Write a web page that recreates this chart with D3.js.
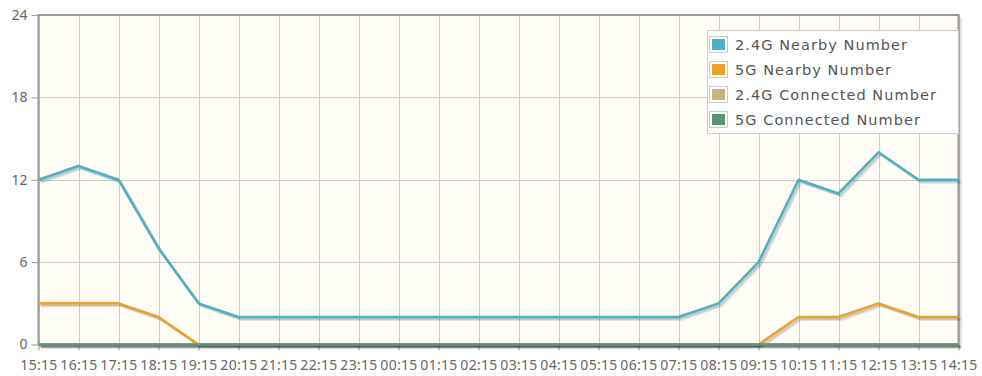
<!DOCTYPE html>
<html>
<head>
<meta charset="utf-8">
<script src="https://cdn.jsdelivr.net/npm/d3@7"></script>
<style>
  html, body { margin: 0; padding: 0; background: #ffffff; }
  svg { display: block; }
</style>
</head>
<body>
<svg id="chart" width="982" height="376"></svg>
<script>
// Hourly counts of nearby / connected Wi-Fi clients
const hours = ["15:15","16:15","17:15","18:15","19:15","20:15","21:15","22:15","23:15","00:15","01:15","02:15",
               "03:15","04:15","05:15","06:15","07:15","08:15","09:15","10:15","11:15","12:15","13:15","14:15"];
const nearby24 = [12,13,12,7,3,2,2,2,2,2,2,2,2,2,2,2,2,3,6,12,11,14,12,12];
const nearby5 = [3,3,3,2,0,0,0,0,0,0,0,0,0,0,0,0,0,0,0,2,2,3,2,2];
const connected24 = [0,0,0,0,0,0,0,0,0,0,0,0,0,0,0,0,0,0,0,0,0,0,0,0];
const connected5 = [0,0,0,0,0,0,0,0,0,0,0,0,0,0,0,0,0,0,0,0,0,0,0,0];
const seriesNames = ["2.4G Nearby Number","5G Nearby Number","2.4G Connected Number","5G Connected Number"];
const seriesColors = ["#4bb2c5","#eaa228","#c5b47f","#579575"];
const yTicks = [0,6,12,18,24];

const svg = d3.select("#chart");
const plot = { left: 38.5, right: 958.5, top: 15, bottom: 344.5 };

const x = d3.scalePoint().domain(hours).range([plot.left, plot.right]);
const y = d3.scaleLinear().domain([0,24]).range([plot.bottom, plot.top]);

// plot background
svg.append("rect")
  .attr("x", plot.left).attr("y", plot.top)
  .attr("width", plot.right - plot.left).attr("height", plot.bottom - plot.top)
  .attr("fill", "#fffdf6");

// grid lines
const grid = svg.append("g").attr("stroke", "#cccccc").attr("stroke-width", 1);
grid.selectAll(".vg").data(hours).join("line")
  .attr("x1", d => Math.round(x(d)) + 0.5).attr("x2", d => Math.round(x(d)) + 0.5)
  .attr("y1", plot.top).attr("y2", plot.bottom);
grid.selectAll(".hg").data(yTicks).join("line")
  .attr("x1", plot.left).attr("x2", plot.right)
  .attr("y1", d => Math.round(y(d)) + 0.5).attr("y2", d => Math.round(y(d)) + 0.5);

// border shadow and border
const shadowG = svg.append("g").attr("fill", "none");
[1, 2, 3].forEach(k => {
  shadowG.append("path")
    .attr("d", `M${plot.right + k},${plot.top + k} L${plot.right + k},${plot.bottom + k} L${plot.left + k},${plot.bottom + k}`)
    .attr("stroke", "rgba(0,0,0,0.08)").attr("stroke-width", 1.5);
});
svg.append("rect")
  .attr("x", plot.left).attr("y", plot.top)
  .attr("width", plot.right - plot.left).attr("height", plot.bottom - plot.top)
  .attr("fill", "none").attr("stroke", "#999999").attr("stroke-width", 2);

// axes
const tickFont = "'Noto Sans', sans-serif";
const xAxis = d3.axisBottom(x).tickSize(6).tickPadding(10);
const gx = svg.append("g").attr("transform", `translate(0,${plot.bottom})`).call(xAxis);
gx.select(".domain").remove();
gx.selectAll(".tick line").attr("stroke", "#999999");
gx.selectAll(".tick text")
  .attr("fill", "#666666").attr("font-family", tickFont).attr("font-size", 14)
  .attr("letter-spacing", 0.3);

const yAxis = d3.axisLeft(y).tickValues(yTicks).tickSize(7).tickPadding(4);
const gy = svg.append("g").attr("transform", `translate(${plot.left},0)`).call(yAxis);
gy.select(".domain").remove();
gy.selectAll(".tick line").attr("stroke", "#999999");
gy.selectAll(".tick text")
  .attr("fill", "#666666").attr("font-family", tickFont).attr("font-size", 14);

// series lines with soft drop shadow
const line = d3.line().x((d, i) => x(hours[i])).y(d => y(d));
const allSeries = [nearby24, nearby5, connected24, connected5];
const linesG = svg.append("g").attr("fill", "none").attr("stroke-linejoin", "round");
allSeries.forEach((vals, si) => {
  [3, 2, 1].forEach(k => {
    linesG.append("path")
      .datum(vals)
      .attr("d", line)
      .attr("transform", `translate(${k * 0.9},${k * 0.9})`)
      .attr("stroke", "rgba(0,0,0,0.1)")
      .attr("stroke-width", 2.5);
  });
  linesG.append("path")
    .datum(vals)
    .attr("d", line)
    .attr("stroke", seriesColors[si])
    .attr("stroke-width", 2.5);
});

// legend
const legend = svg.append("g").attr("transform", "translate(707,30)");
legend.append("rect")
  .attr("x", 0.5).attr("y", 0.5).attr("width", 251).attr("height", 103)
  .attr("fill", "#ffffff").attr("stroke", "#cccccc");
const items = legend.selectAll(".item").data(seriesNames).join("g")
  .attr("transform", (d, i) => `translate(0,${6 + i * 25})`);
items.append("rect")
  .attr("x", 2.5).attr("y", 0.5).attr("width", 18).attr("height", 16)
  .attr("fill", "#ffffff").attr("stroke", "#cccccc");
items.append("rect")
  .attr("x", 5).attr("y", 3).attr("width", 13).attr("height", 11)
  .attr("fill", (d, i) => seriesColors[i]);
items.append("text")
  .attr("x", 28).attr("y", 8.5).attr("dy", "0.35em")
  .attr("fill", "#555555")
  .attr("font-family", "'DejaVu Sans', sans-serif").attr("font-size", 14.5)
  .attr("letter-spacing", 1.05)
  .text(d => d);
</script>
</body>
</html>
